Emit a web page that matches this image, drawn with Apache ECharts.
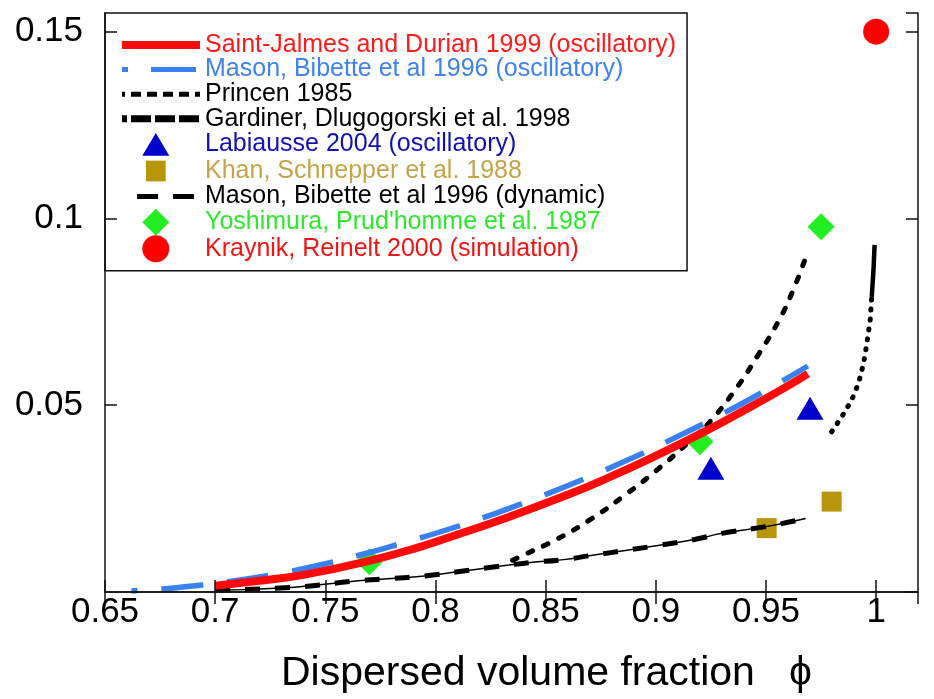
<!DOCTYPE html>
<html><head><meta charset="utf-8">
<script src="https://cdn.jsdelivr.net/npm/echarts@6/dist/echarts.min.js"></script>
<style>html,body{margin:0;padding:0;background:#fff}#c{width:934px;height:699px}</style>
</head><body><div id="c"></div>
<script>
// ---- data ----
const xTickLabels = ['0.65','0.7','0.75','0.8','0.85','0.9','0.95','1'];
const yTickLabels = ['0.05','0.1','0.15'];

const saintJalmes = [[0.700,0.0017],[0.720,0.0030],[0.740,0.0046],[0.769,0.0082],[0.793,0.0121],[0.807,0.0148],[0.830,0.0194],[0.862,0.0265],[0.880,0.0310],[0.899,0.0362],[0.921,0.0426],[0.940,0.0486],[0.955,0.0535],[0.969,0.0584]];
const masonOsc = [[0.662,0.0003],[0.676,0.0008],[0.694,0.0019],[0.705,0.0027],[0.725,0.0045],[0.745,0.0069],[0.767,0.0101],[0.785,0.0131],[0.807,0.0170],[0.827,0.0210],[0.846,0.0252],[0.868,0.0304],[0.889,0.0358],[0.908,0.0411],[0.930,0.0476],[0.950,0.0540],[0.969,0.0605]];
const princen = [[0.835,0.0085],[0.840,0.0099],[0.855,0.0141],[0.870,0.0193],[0.885,0.0255],[0.901,0.0329],[0.916,0.0407],[0.924,0.0452],[0.936,0.0541],[0.9465,0.0635],[0.9556,0.0724],[0.9624,0.0809],[0.969,0.0912]];
const gardinerLow = [[0.9798,0.0429],[0.9844,0.0469],[0.9889,0.0514],[0.9920,0.0559],[0.9943,0.0612],[0.9958,0.0666],[0.9973,0.0728],[0.9980,0.0790]];
const gardinerHigh = [[0.9980,0.0790],[0.9988,0.0862],[0.9993,0.0929]];
const masonDyn = [[0.700,0.0005],[0.736,0.0013],[0.765,0.0030],[0.780,0.0036],[0.795,0.0043],[0.810,0.0054],[0.828,0.0068],[0.843,0.0079],[0.857,0.0086],[0.872,0.0099],[0.887,0.0112],[0.9025,0.0126],[0.918,0.0141],[0.930,0.0157],[0.950,0.0175],[0.968,0.0197]];
const labiausse = [[0.925,0.0331],[0.970,0.0492]];
const khan = [[0.9503,0.0171],[0.9798,0.0242]];
const yoshimura = [[0.770,0.0081],[0.920,0.0402],[0.975,0.0978]];
const kraynik = [[1.000,0.150]];

const N = {
  sj: 'Saint-Jalmes and Durian 1999 (oscillatory)',
  mo: 'Mason, Bibette et al 1996 (oscillatory)',
  pr: 'Princen 1985',
  ga: 'Gardiner, Dlugogorski et al. 1998',
  la: 'Labiausse 2004 (oscillatory)',
  kh: 'Khan, Schnepper et al. 1988',
  md: 'Mason, Bibette et al 1996 (dynamic)',
  yo: "Yoshimura, Prud'homme et al. 1987",
  kr: 'Kraynik, Reinelt 2000 (simulation)'
};

const FONT = 'Liberation Sans, Arial, sans-serif';
function fmt(v){ return String(parseFloat(v.toFixed(2))); }
const xLabelMap = {}; xTickLabels.forEach(s => xLabelMap[s] = s);
const yLabelMap = {}; yTickLabels.forEach(s => yLabelMap[s] = s);

// legend marker icons (extra moveTo widens the box so the marker sits a bit left of centre)
const ICON_TRI = 'path://M0,0M36,26M0,24L13,2L26,24Z';
const ICON_SQ = 'path://M0,0M36,26M3.5,3h19v20h-19Z';
const ICON_DIA = 'path://M0,0M36,26M13,0L26,13L13,26L0,13Z';
const ICON_CIR = 'path://M0,0M36,26M0,13A13,13 0 1,0 26,13A13,13 0 1,0 0,13Z';
const HIDE = {opacity:0};

const chart = echarts.init(document.getElementById('c'), null, {renderer:'canvas'});
const axisLine = {show:true, lineStyle:{color:'#111', width:1.5}};
const axisTick = {show:true, inside:true, length:12, lineStyle:{color:'#111', width:1.5}};
const xBase = {type:'value', min:0.65, max:1.019, interval:0.05, splitLine:{show:false}, axisLine, axisTick, z:6};
const yBase = {type:'value', min:0, max:0.155, interval:0.05, splitLine:{show:false}, axisLine, axisTick, z:6};
const noSym = {color:'rgba(0,0,0,0)'};

const option = {
  animation:false,
  backgroundColor:'#fff',
  grid:{left:105, right:16, top:13, bottom:107, containLabel:false},
  xAxis:[
    Object.assign({}, xBase, {position:'bottom',
      axisLabel:{show:true, margin:3, fontSize:35, fontFamily:FONT, color:'#000', showMaxLabel:false,
        formatter: v => xLabelMap[fmt(v)] || ''},
      name:'Dispersed volume fraction   ϕ', nameLocation:'middle', nameGap:61,
      nameTextStyle:{fontSize:41, fontFamily:FONT, color:'#000', padding:[0,0,0,70]}}),
    Object.assign({}, xBase, {position:'top', axisLabel:{show:false}})
  ],
  yAxis:[
    Object.assign({}, yBase, {position:'left',
      axisLabel:{show:true, margin:22, fontSize:35, fontFamily:FONT, color:'#000', showMinLabel:false, showMaxLabel:false,
        formatter: v => yLabelMap[fmt(v)] || ''}}),
    Object.assign({}, yBase, {position:'right', axisLabel:{show:false}})
  ],
  legend:{
    orient:'vertical', left:105, top:13,
    padding:[19.5,11,8.5,13],
    itemWidth:78, itemHeight:27, itemGap:-0.4, itemTextGap:7,
    backgroundColor:'#fff', borderColor:'#111', borderWidth:1.5, borderRadius:0,
    textStyle:{fontSize:25, fontFamily:FONT, lineHeight:25},
    selectedMode:false,
    data:[
      {name:N.sj, textStyle:{color:'#ff1a1a'}, itemStyle:HIDE, lineStyle:{width:8, type:'solid', cap:'butt'}},
      {name:N.mo, textStyle:{color:'#3f82f0'}, itemStyle:HIDE, lineStyle:{width:5, type:[45,23], dashOffset:39, cap:'butt'}},
      {name:N.pr, textStyle:{color:'#000'}, itemStyle:HIDE, lineStyle:{width:5, type:[10,6], cap:'butt'}},
      {name:N.ga, textStyle:{color:'#000'}, itemStyle:HIDE, lineStyle:{width:7, type:[20,4], cap:'butt'}},
      {name:N.la, textStyle:{color:'#1010b8'}, icon:ICON_TRI},
      {name:N.kh, textStyle:{color:'#c4a44a'}, icon:ICON_SQ},
      {name:N.md, textStyle:{color:'#000'}, itemStyle:HIDE, lineStyle:{width:5, type:[21,15], dashOffset:21, cap:'butt'}},
      {name:N.yo, textStyle:{color:'#2ee82e'}, icon:ICON_DIA},
      {name:N.kr, textStyle:{color:'#f01414'}, icon:ICON_CIR}
    ]
  },
  series:[
    {name:'mason-dyn-thin', type:'line', data:masonDyn, smooth:true, symbol:'none', itemStyle:noSym,
      lineStyle:{color:'#000', width:1.5}},
    {name:N.md, type:'line', data:masonDyn, smooth:true, symbol:'none', itemStyle:noSym,
      lineStyle:{color:'#000', width:5, type:[15,15]}},
    {name:N.pr, type:'line', data:princen, smooth:true, symbol:'none', itemStyle:noSym,
      lineStyle:{color:'#000', width:5, type:[5,12], cap:'round'}},
    {name:N.ga, type:'line', data:gardinerLow, smooth:false, symbol:'none', itemStyle:noSym,
      lineStyle:{color:'#000', width:5, type:[1,9], cap:'round'}},
    {name:N.ga, type:'line', data:gardinerHigh, smooth:false, symbol:'none', itemStyle:noSym,
      lineStyle:{color:'#000', width:4.5, type:'solid'}},
    {name:N.mo, type:'line', data:masonOsc, smooth:true, symbol:'none', itemStyle:noSym,
      lineStyle:{color:'#3a80f0', width:5.5, type:[42,24], dashOffset:36}},
    {name:N.sj, type:'line', data:saintJalmes, smooth:true, symbol:'none', itemStyle:noSym,
      lineStyle:{color:'#ff0a0a', width:8}},
    {name:N.la, type:'scatter', data:labiausse, symbol:'triangle', symbolSize:[27,23],
      itemStyle:{color:'#0000cc', opacity:1}},
    {name:N.kh, type:'scatter', data:khan, symbol:'rect', symbolSize:20,
      itemStyle:{color:'#b8960c', opacity:1}},
    {name:N.yo, type:'scatter', data:yoshimura, symbol:'diamond', symbolSize:27,
      itemStyle:{color:'#22ee22', opacity:1}},
    {name:N.kr, type:'scatter', data:kraynik, symbol:'circle', symbolSize:26,
      itemStyle:{color:'#ff0000', opacity:1}}
  ]
};
chart.setOption(option);
</script>
</body></html>
